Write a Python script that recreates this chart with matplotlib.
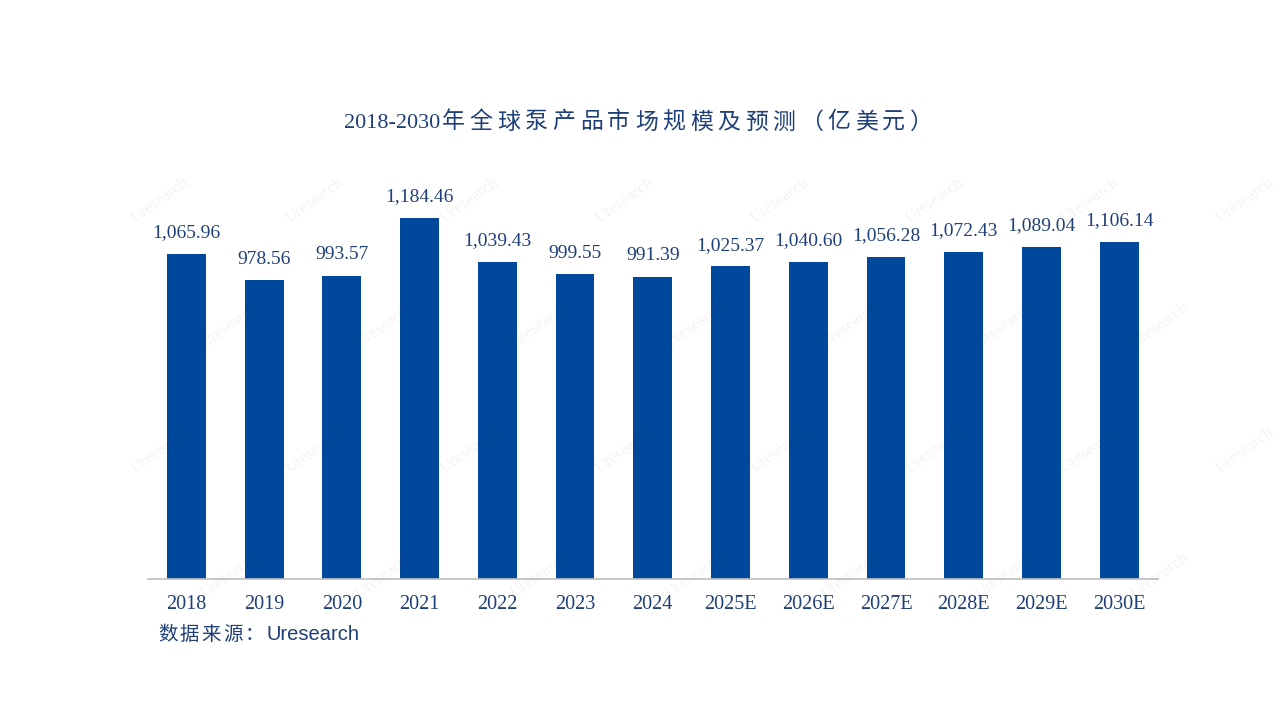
import matplotlib
matplotlib.use("Agg")
import matplotlib.pyplot as plt

categories = ["2018", "2019", "2020", "2021", "2022", "2023", "2024",
              "2025E", "2026E", "2027E", "2028E", "2029E", "2030E"]
values = [1065.96, 978.56, 993.57, 1184.46, 1039.43, 999.55, 991.39,
          1025.37, 1040.60, 1056.28, 1072.43, 1089.04, 1106.14]

title_latin = "2018-2030"
title_cjk = "年全球泵产品市场规模及预测（亿美元）"
source_cjk = "数据来源："
source_latin = "Uresearch"

BAR = "#00489C"
TXT = "#1F3F78"
SERIF = ["Liberation Serif", "Noto Sans CJK SC"]
CJK = ["Noto Sans CJK SC"]
SANS = ["Liberation Sans", "Noto Sans CJK SC"]

W, H = 1280, 720
fig = plt.figure(figsize=(W / 100, H / 100), dpi=100)
fig.patch.set_facecolor("white")


def fx(px):
    return px / W


def fy(py):
    return 1 - py / H


# watermark
for row, yy in enumerate(range(200, 700, 125)):
    for xx in range(160 + (row % 2) * 70, 1280, 155):
        fig.text(fx(xx), fy(yy), "Uresearch", rotation=35, fontsize=12,
                 color="#000000", alpha=0.05, ha="center", va="center",
                 family=SERIF)

left, right = 147.5, 1158
bottom, top = 578.5, 152.1
ax = fig.add_axes([fx(left), fy(bottom), (right - left) / W, (bottom - top) / H])
ax.set_facecolor("none")
x = list(range(len(categories)))
ax.bar(x, values, width=0.5, color=BAR, zorder=2)
ax.set_xlim(-0.5, len(categories) - 0.5)
ax.set_ylim(0, 1400)

for xi, v in zip(x, values):
    ax.annotate(f"{v:,.2f}", (xi, v), xytext=(0, 9), textcoords="offset points",
                ha="center", va="bottom", fontsize=14, color=TXT, family=SERIF)

for s in ["top", "right", "left"]:
    ax.spines[s].set_visible(False)
ax.spines["bottom"].set_color("#BFBFBF")
ax.spines["bottom"].set_linewidth(1.2)
ax.set_yticks([])
ax.set_xticks(x)
ax.set_xticklabels(categories, fontsize=14.5, color=TXT, family=SERIF)
ax.tick_params(axis="x", length=0, pad=12)

# title: latin part then spaced CJK characters
split_x = 440
fig.text(fx(split_x), fy(123), title_latin, ha="right", va="center",
         fontsize=16, color=TXT, family=SERIF)
pitch = (935 - split_x) / len(title_cjk)
for i, ch in enumerate(title_cjk):
    fig.text(fx(split_x + pitch * (i + 0.5)), fy(122), ch, ha="center",
             va="center", fontsize=16.5, color=TXT, family=CJK)

# source note
sp = 21.6
for i, ch in enumerate(source_cjk):
    fig.text(fx(157 + sp * (i + 0.5)), fy(635), ch, ha="center", va="center",
             fontsize=14, color=TXT, family=CJK)
fig.text(fx(267), fy(635), source_latin, ha="left", va="center",
         fontsize=14.5, color=TXT, family=SANS)

fig.savefig("out.png", dpi=100, facecolor="white")
